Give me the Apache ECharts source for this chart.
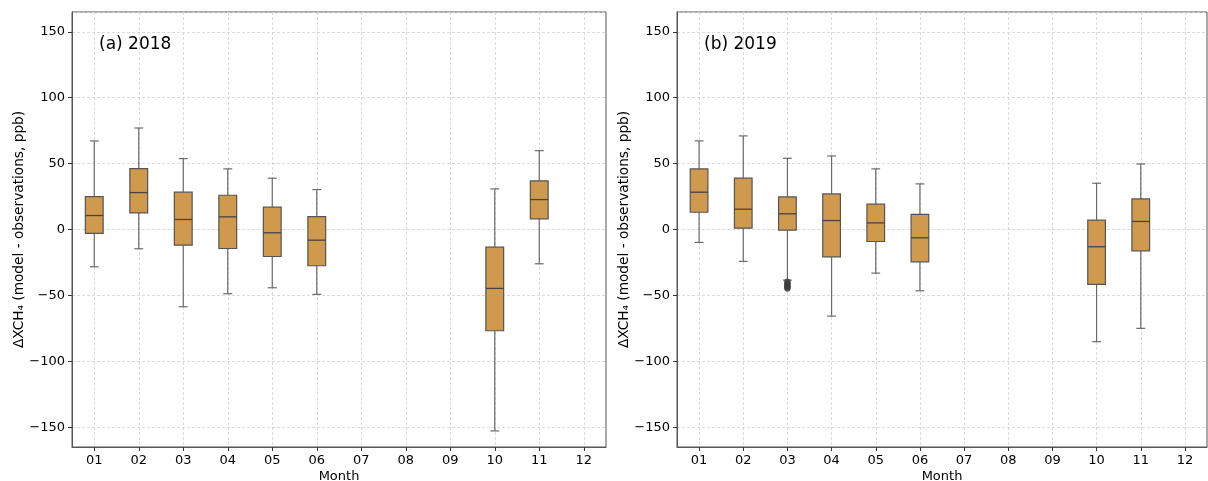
<!DOCTYPE html>
<html>
<head>
<meta charset="utf-8">
<script src="https://cdn.jsdelivr.net/npm/echarts@6/dist/echarts.min.js"></script>
<style>html,body{margin:0;padding:0;background:#fff;}#c{width:1208px;height:481px;}</style>
</head>
<body>
<div id="c"></div>
<script>
const months = ['01','02','03','04','05','06','07','08','09','10','11','12'];
// [month, whiskerLow, Q1, median, Q3, whiskerHigh]
const box2018 = [
  ['01', -28.3, -3.0, 10.6, 25.0, 67.2],
  ['02', -14.6, 12.6, 28.0, 46.2, 77.0],
  ['03', -58.6, -11.9, 7.6, 28.3, 53.8],
  ['04', -48.7, -14.4, 9.6, 26.0, 46.0],
  ['05', -44.2, -20.5, -2.5, 16.9, 38.9],
  ['06', -49.2, -27.5, -8.1, 9.8, 30.3],
  ['10', -152.8, -76.8, -44.7, -13.4, 30.8],
  ['11', -26.0, 8.1, 22.7, 36.9, 59.8]
];
const box2019 = [
  ['01', -9.8, 13.1, 28.3, 46.0, 67.2],
  ['02', -24.2, 1.0, 15.4, 38.9, 71.0],
  ['03', -38.4, -0.5, 11.9, 24.7, 54.0],
  ['04', -65.7, -20.7, 6.8, 27.0, 55.8],
  ['05', -33.1, -9.1, 5.0, 19.2, 46.0],
  ['06', -46.5, -24.5, -6.3, 11.4, 34.6],
  ['10', -85.1, -41.7, -13.1, 7.1, 35.1],
  ['11', -75.0, -16.2, 6.1, 23.2, 49.7]
];
const outliers2019 = [['03', -39.6], ['03', -40.8], ['03', -42.0], ['03', -43.0], ['03', -44.0], ['03', -44.8]];
const titles = ['(a) 2018', '(b) 2019'];
const yName = 'ΔXCH₄ (model - observations, ppb)';

const font = 'DejaVu Sans';
const boxFill = '#cf9a4d';
const edge = '#555555';
const whisk = '#6a6a6a';

function renderBox(params, api) {
  const x = api.value(0);
  const lo = api.coord([x, api.value(1)]);
  const q1 = api.coord([x, api.value(2)]);
  const md = api.coord([x, api.value(3)]);
  const q3 = api.coord([x, api.value(4)]);
  const hi = api.coord([x, api.value(5)]);
  const bw = api.size([1, 0])[0];
  const hw = bw * 0.2;
  const cw = hw / 2;
  const cx = lo[0];
  const ls = { stroke: whisk, lineWidth: 1.2 };
  return {
    type: 'group',
    children: [
      { type: 'line', shape: { x1: cx, y1: lo[1], x2: cx, y2: q1[1] }, style: ls },
      { type: 'line', shape: { x1: cx, y1: q3[1], x2: cx, y2: hi[1] }, style: ls },
      { type: 'line', shape: { x1: cx - cw, y1: lo[1], x2: cx + cw, y2: lo[1] }, style: ls },
      { type: 'line', shape: { x1: cx - cw, y1: hi[1], x2: cx + cw, y2: hi[1] }, style: ls },
      { type: 'rect', shape: { x: cx - hw, y: q3[1], width: 2 * hw, height: q1[1] - q3[1] },
        style: { fill: boxFill, stroke: edge, lineWidth: 1.2 } },
      { type: 'line', shape: { x1: cx - hw, y1: md[1], x2: cx + hw, y2: md[1] }, style: { stroke: '#444', lineWidth: 1.3 } }
    ]
  };
}

const grids = [
  { left: 72, top: 12, width: 534, height: 435, show: true, borderColor: '#555', borderWidth: 1, backgroundColor: 'transparent', containLabel: false, outerBoundsMode: 'none' },
  { left: 677, top: 12, width: 530, height: 435, show: true, borderColor: '#555', borderWidth: 1, backgroundColor: 'transparent', containLabel: false, outerBoundsMode: 'none' }
];

function xAx(i) {
  return {
    type: 'category', gridIndex: i, data: months, boundaryGap: true,
    name: 'Month', nameLocation: 'middle', nameGap: 23, nameMoveOverlap: false,
    nameTextStyle: { fontFamily: font, fontSize: 13, color: '#000' },
    axisLine: { show: true, onZero: false, lineStyle: { color: '#555', width: 1 } },
    axisTick: { show: true, alignWithLabel: true, length: 4, lineStyle: { color: '#333' } },
    axisLabel: { fontFamily: font, fontSize: 13, color: '#000', margin: 7, interval: 0 },
    splitLine: { show: true, alignWithLabel: true, interval: 0, lineStyle: { color: '#d0d0d0', type: [3, 2], width: 0.8 } }
  };
}
function yAx(i) {
  return {
    type: 'value', gridIndex: i, min: -165, max: 165, splitNumber: 5,
    name: yName, nameLocation: 'middle', nameGap: 46, nameRotate: 90, nameMoveOverlap: false,
    nameTextStyle: { fontFamily: font, fontSize: 13.7, color: '#000' },
    axisLine: { show: true, onZero: false, lineStyle: { color: '#555', width: 1 } },
    axisTick: { show: true, length: 4, lineStyle: { color: '#333' } },
    axisLabel: {
      fontFamily: font, fontSize: 13, color: '#000', margin: 7,
      showMinLabel: false, showMaxLabel: false,
      formatter: v => (Math.abs(v) % 50 === 0 ? String(v).replace('-', '\u2212') : '')
    },
    splitLine: { show: true, lineStyle: { color: '#d0d0d0', type: [3, 2], width: 0.8 } }
  };
}

const chart = echarts.init(document.getElementById('c'), null, { renderer: 'canvas' });
chart.setOption({
  animation: false,
  backgroundColor: '#fff',
  title: [
    { text: titles[0], left: 94, top: 31, textStyle: { fontFamily: font, fontSize: 17, fontWeight: 'normal', color: '#000' } },
    { text: titles[1], left: 699, top: 31, textStyle: { fontFamily: font, fontSize: 17, fontWeight: 'normal', color: '#000' } }
  ],
  grid: grids,
  xAxis: [xAx(0), xAx(1)],
  yAxis: [yAx(0), yAx(1)],
  series: [
    { type: 'custom', xAxisIndex: 0, yAxisIndex: 0, renderItem: renderBox, data: box2018,
      encode: { x: 0, y: [1, 2, 3, 4, 5] }, z: 5 },
    { type: 'custom', xAxisIndex: 1, yAxisIndex: 1, renderItem: renderBox, data: box2019,
      encode: { x: 0, y: [1, 2, 3, 4, 5] }, z: 5 },
    { type: 'scatter', xAxisIndex: 1, yAxisIndex: 1, data: outliers2019, symbol: 'circle', symbolSize: 6,
      itemStyle: { color: '#3d3d3d', borderColor: '#3d3d3d', borderWidth: 0.5 }, z: 6 }
  ]
});
</script>
</body>
</html>
